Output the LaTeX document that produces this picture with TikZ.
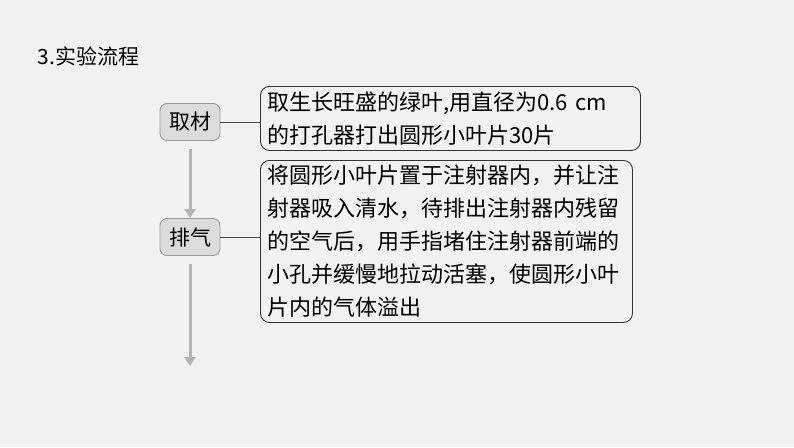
\documentclass[tikz,border=0pt]{standalone}
\usepackage{fontspec}
\newfontfamily\cjk{Noto Sans CJK SC}
\setmainfont{Liberation Serif}
\definecolor{bg}{HTML}{F2F2F2}
\definecolor{stepfill}{HTML}{DCDCDC}
\definecolor{arrowgray}{HTML}{B4B4B4}
\tikzset{
  stagebox/.style={draw=gray!80, fill=stepfill, rounded corners=7pt, line width=0.9pt,
    minimum width=60pt, minimum height=37pt, font=\cjk\fontsize{21}{21}\selectfont},
  textbox/.style={draw=black!80, rounded corners=9pt, line width=0.9pt, anchor=north west,
    align=left, inner sep=0pt, font=\cjk\fontsize{22}{33}\selectfont},
  flow/.style={arrowgray, line width=3pt, -{Triangle[length=9pt,width=11pt]}}
}
\usetikzlibrary{arrows.meta}
\begin{document}
\begin{tikzpicture}[x=1pt,y=-1pt]
    % background
    \fill[bg] (0,0) rectangle (794,447);
    \useasboundingbox (0,0) rectangle (794,447);

    % title
    \node[anchor=west, font=\cjk\fontsize{21}{21}\selectfont] (title) at (34,56) {3.实验流程};

    % stages
    \node[stagebox] (qucai) at (190,122) {取材};
    \node[stagebox] (paiqi) at (190,237) {排气};
    \coordinate (end) at (190,366);

    % descriptions
    \node[textbox, text width=366pt, minimum height=64pt, inner xsep=7pt] (t1) at (260,86)
        {取生长旺盛的绿叶,用直径为0.6 cm\\的打孔器打出圆形小叶片30片};
    \node[textbox, text width=358pt, minimum height=162pt, inner xsep=7pt] (t2) at (260,160)
        {将圆形小叶片置于注射器内，并让注\\射器吸入清水，待排出注射器内残留\\的空气后，用手指堵住注射器前端的\\小孔并缓慢地拉动活塞，使圆形小叶\\片内的气体溢出};

    % connectors
    \draw[line width=0.9pt, black!70] (qucai.east) -- (qucai.east -| t1.west);
    \draw[line width=0.9pt, black!70] (paiqi.east) -- (paiqi.east -| t2.west);
    \draw[flow] ([yshift=-8pt]qucai.south) -- (paiqi.north);
    \draw[flow] ([yshift=-8pt]paiqi.south) -- (end);
\end{tikzpicture}
\end{document}
